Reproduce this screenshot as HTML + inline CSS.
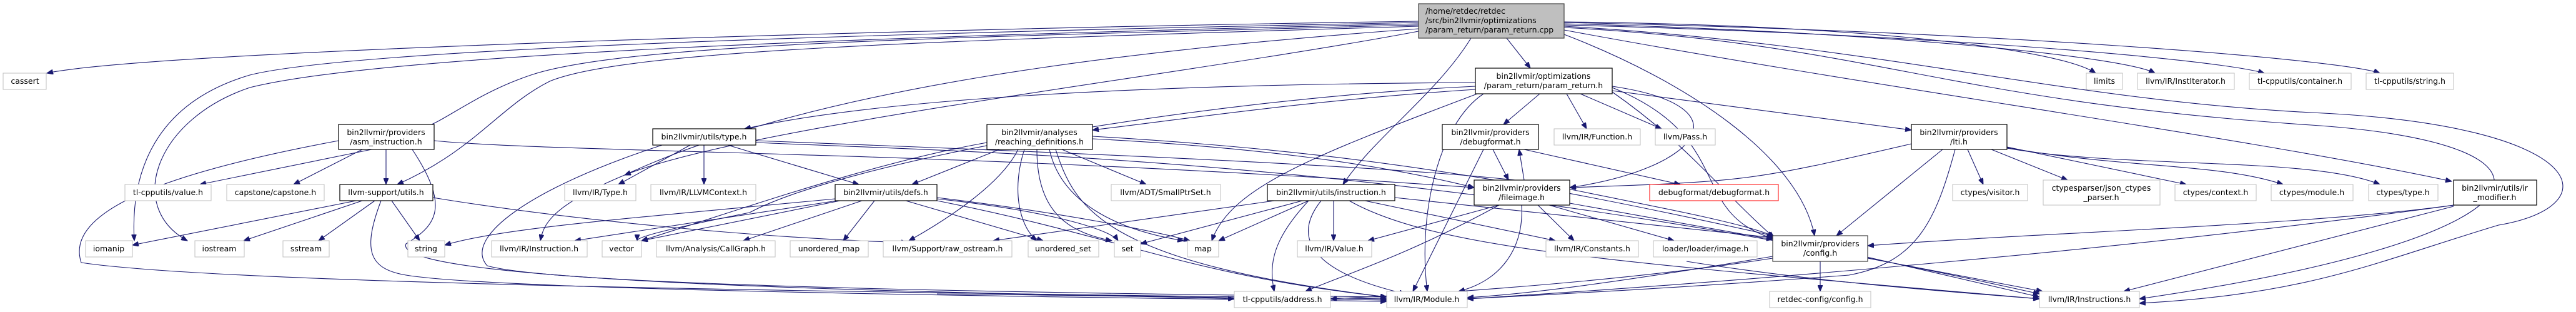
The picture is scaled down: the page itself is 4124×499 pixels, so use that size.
<!DOCTYPE html>
<html><head><meta charset="utf-8"><style>
html,body{margin:0;padding:0;background:#fff;}
svg{display:block;}
text{font-family:"DejaVu Sans","Liberation Sans",sans-serif;font-size:12.5px;fill:#000;}
.e{fill:none;stroke:#191970;stroke-width:1.1;marker-end:url(#a);}
.n{fill:#fff;stroke:#bfbfbf;stroke-width:1;}
.b{fill:#fff;stroke:#000;stroke-width:1.2;}
.r{fill:#fff;stroke:#ff0000;stroke-width:1;}
</style></head><body>
<svg width="4124" height="499" viewBox="0 0 4124 499" xmlns="http://www.w3.org/2000/svg">
<defs><marker id="a" markerUnits="userSpaceOnUse" markerWidth="11" markerHeight="8" refX="10" refY="4" orient="auto"><path d="M0,0 L10,4 L0,8 z" fill="#191970" stroke="#191970"/></marker></defs>
<g>
<!-- main edges -->
<path class="e" d="M2271,34 C1500,45 250,80 75,117"/>
<path class="e" d="M2271,36 C1300,55 560,80 400,120 C230,170 210,300 215,385"/>
<path class="e" d="M2271,38 C1300,60 600,90 400,140 C250,190 200,330 300,385"/>
<path class="e" d="M2271,40 C1500,60 1000,70 850,120 C730,160 680,230 642,199"/>
<path class="e" d="M2271,42 C1500,65 1000,80 880,130 C800,170 760,240 636,295"/>
<path class="e" d="M2271,46 C1800,80 1300,140 1000,280 C880,330 870,360 865,385"/>
<path class="e" d="M2271,50 C1900,120 1200,200 1000,280"/>
<path class="e" d="M2355,61 C2300,150 2200,220 2150,295"/>
<path class="e" d="M2412,61 L2450,109"/>
<path class="e" d="M2504,35 C3000,40 3300,80 3355,117"/>
<path class="e" d="M2504,38 C3000,50 3400,90 3450,117"/>
<path class="e" d="M2504,40 C3100,55 3550,95 3625,117"/>
<path class="e" d="M2504,36 C3200,50 3750,95 3810,117"/>
<path class="e" d="M2504,48 C3000,140 3600,220 3925,290"/>
<path class="e" d="M2504,55 C2700,130 2880,250 2905,377"/>
<path class="e" d="M2504,44 C3000,70 3100,160 3700,200 C4150,230 4100,380 3425,478"/>
<path class="e" d="M2504,42 C3000,70 3300,160 3700,180 C4150,200 4180,330 4000,360 C3800,420 3700,470 3425,485"/>
<!-- param_return.h -->
<path class="e" d="M2362,143 C2100,160 1900,190 1749,208"/>
<path class="e" d="M2465,150 L2407,199"/>
<path class="e" d="M2508,150 L2540,206"/>
<path class="e" d="M2530,150 L2660,206"/>
<path class="e" d="M2581,145 L3060,208"/>
<path class="e" d="M2581,138 C2800,170 2720,270 2513,300"/>
<path class="e" d="M2375,150 C2300,200 2270,350 2285,466"/>
<path class="e" d="M2365,150 C2100,250 1970,300 1940,385"/>
<path class="e" d="M2362,132 C1800,135 1400,160 1192,206"/>
<path class="e" d="M2362,138 C1900,160 1350,260 1200,340 C1050,370 1020,380 1020,385"/>
<path class="e" d="M2581,140 C2780,220 2700,340 2840,382"/>
<path class="e" d="M2581,147 C2700,230 2750,300 2840,380"/>
<!-- asm_instruction -->
<path class="e" d="M595,239 L320,295"/>
<path class="e" d="M580,239 L470,295"/>
<path class="e" d="M618,239 L618,295"/>
<path class="e" d="M542,225 C300,270 100,330 130,420 C400,460 1700,470 2220,478"/>
<path class="e" d="M660,239 C720,330 700,360 650,390 C620,460 1700,472 2220,480"/>
<path class="e" d="M695,225 C900,245 1500,240 2360,300"/>
<!-- llvm-support/utils -->
<path class="e" d="M570,321 L212,392"/>
<path class="e" d="M580,321 L390,385"/>
<path class="e" d="M600,321 L510,385"/>
<path class="e" d="M627,321 L672,385"/>
<path class="e" d="M610,321 C580,400 590,430 650,440 C800,465 1700,475 2220,482"/>
<path class="e" d="M693,316 C900,350 1200,380 1453,388"/>
<!-- type.h -->
<path class="e" d="M1105,232 L990,295"/>
<path class="e" d="M1127,232 L1127,295"/>
<path class="e" d="M1165,232 L1375,295"/>
<path class="e" d="M1060,232 C850,300 740,380 780,425 C900,460 1800,470 2220,475"/>
<path class="e" d="M1210,225 C1600,240 2400,270 2500,300 C2700,340 2800,360 2840,378"/>
<path class="e" d="M1210,228 C1600,245 2300,255 3265,470"/>
<!-- defs.h -->
<path class="e" d="M1337,318 C1000,350 800,365 712,392"/>
<path class="e" d="M1340,321 L920,385"/>
<path class="e" d="M1345,321 L1027,385"/>
<path class="e" d="M1380,321 L1190,385"/>
<path class="e" d="M1400,321 L1350,385"/>
<path class="e" d="M1450,321 L1670,385"/>
<path class="e" d="M1500,318 C1700,340 1780,370 1790,385"/>
<path class="e" d="M1500,316 C1700,340 1850,370 1905,385"/>
<path class="e" d="M1500,321 C1800,380 1900,440 2220,475"/>
<!-- reaching_definitions -->
<path class="e" d="M1600,239 L1460,295"/>
<path class="e" d="M1630,239 C1600,300 1500,360 1455,385"/>
<path class="e" d="M1700,239 L1835,295"/>
<path class="e" d="M1640,239 C1620,300 1630,360 1660,385"/>
<path class="e" d="M1660,239 C1660,330 1700,370 1780,385"/>
<path class="e" d="M1680,239 C1700,330 1800,370 1895,385"/>
<path class="e" d="M1690,239 C1720,330 1760,420 2220,475"/>
<path class="e" d="M1749,222 C2000,235 2200,260 2360,300"/>
<path class="e" d="M1580,228 C1400,260 1200,330 1027,385"/>
<path class="e" d="M1749,218 C2300,250 2600,320 3265,475"/>
<!-- instruction.h -->
<path class="e" d="M2040,321 L1590,385"/>
<path class="e" d="M2085,321 L1826,390"/>
<path class="e" d="M2095,321 L1951,385"/>
<path class="e" d="M2135,321 L2135,385"/>
<path class="e" d="M2095,321 C2040,380 2030,420 2040,466"/>
<path class="e" d="M2115,321 C2060,390 2120,440 2250,470"/>
<path class="e" d="M2185,321 L2490,385"/>
<path class="e" d="M2233,316 L2838,380"/>
<path class="e" d="M2160,321 C2300,400 2600,420 3265,478"/>
<!-- fileimage -->
<path class="e" d="M2440,288 L2432,239"/>
<path class="e" d="M2400,328 L2190,385"/>
<path class="e" d="M2400,328 C2250,410 2150,440 2090,466"/>
<path class="e" d="M2436,328 C2440,400 2400,450 2335,466"/>
<path class="e" d="M2462,328 L2520,385"/>
<path class="e" d="M2480,328 L2680,385"/>
<path class="e" d="M2513,325 L2838,383"/>
<!-- debugformat provider -->
<path class="e" d="M2390,239 L2415,288"/>
<path class="e" d="M2440,239 L2690,295"/>
<path class="e" d="M2375,239 L2262,466"/>
<!-- lti.h -->
<path class="e" d="M3150,239 L3175,295"/>
<path class="e" d="M3188,239 L3310,288"/>
<path class="e" d="M3213,235 L3500,295"/>
<path class="e" d="M3213,236 C3400,270 3550,260 3655,295"/>
<path class="e" d="M3213,237 C3400,270 3700,250 3810,295"/>
<path class="e" d="M3110,239 L2940,377"/>
<path class="e" d="M3060,230 C2800,290 2800,290 2513,300"/>
<path class="e" d="M3130,239 C3100,350 3070,420 2960,440 C2700,460 2500,470 2349,478"/>
<!-- ir_modifier -->
<path class="e" d="M3928,328 C3700,360 3300,370 2990,393"/>
<path class="e" d="M3928,330 L3400,466"/>
<path class="e" d="M3930,328 C3400,400 2800,450 2349,478"/>
<!-- config.h -->
<path class="e" d="M2914,418 L2914,466"/>
<path class="e" d="M2990,413 L3270,466"/>
<path class="e" d="M2838,413 C2600,450 2300,470 2130,478"/>
<path class="e" d="M2838,410 C2600,450 2450,470 2349,476"/>
<path class="e" d="M1500,470 C1700,472 1900,475 1976,478"/>
<path class="e" d="M2700,418 C2900,450 3100,465 3265,478"/>
</g>
<!-- nodes -->
<rect x="2271" y="6" width="233" height="55" fill="#bfbfbf" stroke="#404040" stroke-width="1.2"/>
<text x="2282" y="22">/home/retdec/retdec</text>
<text x="2282" y="37">/src/bin2llvmir/optimizations</text>
<text x="2282" y="52">/param_return/param_return.cpp</text>
<g text-anchor="middle">
<rect class="n" x="5" y="117" width="69" height="26"/><text x="40" y="134">cassert</text>
<rect class="n" x="3340" y="117" width="58" height="26"/><text x="3369" y="134">limits</text>
<rect class="n" x="3422" y="117" width="155" height="26"/><text x="3499" y="134">llvm/IR/InstIterator.h</text>
<rect class="n" x="3601" y="117" width="163" height="26"/><text x="3682" y="134">tl-cpputils/container.h</text>
<rect class="n" x="3788" y="117" width="140" height="26"/><text x="3858" y="134">tl-cpputils/string.h</text>
<rect class="b" x="2362" y="109" width="219" height="41"/><text x="2471" y="126">bin2llvmir/optimizations</text><text x="2471" y="141">/param_return/param_return.h</text>
<rect class="b" x="542" y="199" width="153" height="40"/><text x="618" y="216">bin2llvmir/providers</text><text x="618" y="231">/asm_instruction.h</text>
<rect class="b" x="1045" y="206" width="165" height="26"/><text x="1127" y="223">bin2llvmir/utils/type.h</text>
<rect class="b" x="1580" y="199" width="169" height="40"/><text x="1664" y="216">bin2llvmir/analyses</text><text x="1664" y="231">/reaching_definitions.h</text>
<rect class="b" x="2309" y="199" width="154" height="40"/><text x="2386" y="216">bin2llvmir/providers</text><text x="2386" y="231">/debugformat.h</text>
<rect class="n" x="2488" y="206" width="138" height="26"/><text x="2557" y="223">llvm/IR/Function.h</text>
<rect class="n" x="2650" y="206" width="96" height="26"/><text x="2698" y="223">llvm/Pass.h</text>
<rect class="b" x="3060" y="199" width="153" height="40"/><text x="3136" y="216">bin2llvmir/providers</text><text x="3136" y="231">/lti.h</text>
<rect class="n" x="200" y="295" width="138" height="26"/><text x="269" y="312">tl-cpputils/value.h</text>
<rect class="n" x="363" y="295" width="156" height="26"/><text x="441" y="312">capstone/capstone.h</text>
<rect class="b" x="544" y="295" width="149" height="26"/><text x="618" y="312">llvm-support/utils.h</text>
<rect class="n" x="904" y="295" width="114" height="26"/><text x="961" y="312">llvm/IR/Type.h</text>
<rect class="n" x="1042" y="295" width="168" height="26"/><text x="1126" y="312">llvm/IR/LLVMContext.h</text>
<rect class="b" x="1337" y="295" width="163" height="26"/><text x="1418" y="312">bin2llvmir/utils/defs.h</text>
<rect class="n" x="1779" y="295" width="175" height="26"/><text x="1866" y="312">llvm/ADT/SmallPtrSet.h</text>
<rect class="b" x="2029" y="295" width="204" height="26"/><text x="2131" y="312">bin2llvmir/utils/instruction.h</text>
<rect class="b" x="2360" y="288" width="153" height="40"/><text x="2436" y="305">bin2llvmir/providers</text><text x="2436" y="320">/fileimage.h</text>
<rect class="r" x="2641" y="295" width="206" height="26"/><text x="2744" y="312">debugformat/debugformat.h</text>
<rect class="n" x="3126" y="295" width="120" height="26"/><text x="3186" y="312">ctypes/visitor.h</text>
<rect class="n" x="3271" y="288" width="187" height="40"/><text x="3364" y="305">ctypesparser/json_ctypes</text><text x="3364" y="320">_parser.h</text>
<rect class="n" x="3482" y="295" width="130" height="26"/><text x="3547" y="312">ctypes/context.h</text>
<rect class="n" x="3636" y="295" width="131" height="26"/><text x="3701" y="312">ctypes/module.h</text>
<rect class="n" x="3792" y="295" width="111" height="26"/><text x="3847" y="312">ctypes/type.h</text>
<rect class="b" x="3928" y="288" width="133" height="40"/><text x="3994" y="305">bin2llvmir/utils/ir</text><text x="3994" y="320">_modifier.h</text>
<rect class="n" x="137" y="385" width="75" height="26"/><text x="174" y="402">iomanip</text>
<rect class="n" x="312" y="385" width="79" height="26"/><text x="351" y="402">iostream</text>
<rect class="n" x="453" y="385" width="74" height="26"/><text x="490" y="402">sstream</text>
<rect class="n" x="653" y="385" width="59" height="26"/><text x="682" y="402">string</text>
<rect class="n" x="787" y="385" width="153" height="26"/><text x="863" y="402">llvm/IR/Instruction.h</text>
<rect class="n" x="964" y="385" width="63" height="26"/><text x="995" y="402">vector</text>
<rect class="n" x="1051" y="385" width="190" height="26"/><text x="1146" y="402">llvm/Analysis/CallGraph.h</text>
<rect class="n" x="1265" y="385" width="125" height="26"/><text x="1327" y="402">unordered_map</text>
<rect class="n" x="1414" y="385" width="206" height="26"/><text x="1517" y="402">llvm/Support/raw_ostream.h</text>
<rect class="n" x="1646" y="385" width="113" height="26"/><text x="1702" y="402">unordered_set</text>
<rect class="n" x="1784" y="385" width="42" height="26"/><text x="1805" y="402">set</text>
<rect class="n" x="1901" y="385" width="50" height="26"/><text x="1926" y="402">map</text>
<rect class="n" x="2077" y="385" width="119" height="26"/><text x="2136" y="402">llvm/IR/Value.h</text>
<rect class="n" x="2475" y="385" width="148" height="26"/><text x="2549" y="402">llvm/IR/Constants.h</text>
<rect class="n" x="2647" y="385" width="166" height="26"/><text x="2730" y="402">loader/loader/image.h</text>
<rect class="b" x="2838" y="377" width="152" height="41" stroke-width="1.6" style="stroke:#404040"/><text x="2914" y="394">bin2llvmir/providers</text><text x="2914" y="409">/config.h</text>
<rect class="n" x="1976" y="466" width="154" height="26"/><text x="2053" y="483">tl-cpputils/address.h</text>
<rect class="n" x="2220" y="466" width="129" height="26"/><text x="2284" y="483">llvm/IR/Module.h</text>
<rect class="n" x="2833" y="466" width="162" height="26"/><text x="2914" y="483">retdec-config/config.h</text>
<rect class="n" x="3265" y="466" width="160" height="26"/><text x="3345" y="483">llvm/IR/Instructions.h</text>
</g>
</svg>
</body></html>
